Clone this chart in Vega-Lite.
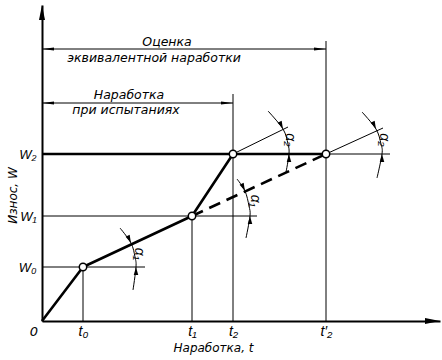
{
  "$schema": "https://vega.github.io/schema/vega-lite/v6.json",
  "width": 398,
  "height": 316,
  "autosize": "none",
  "padding": {"left": 42, "top": 5, "right": 2, "bottom": 39},
  "background": "white",
  "config": {"view": {"stroke": null}, "font": "DejaVu Sans"},
  "datasets": {
    "thin": [
      {"t": 0, "W": 54, "t2": 103, "W2": 54},
      {"t": 0, "W": 105, "t2": 215, "W2": 105},
      {"t": 284, "W": 167, "t2": 348, "W2": 167},
      {"t": 41, "W": 0, "t2": 41, "W2": 54},
      {"t": 150, "W": 0, "t2": 150, "W2": 105},
      {"t": 191, "W": 0, "t2": 191, "W2": 227},
      {"t": 284, "W": 0, "t2": 284, "W2": 280},
      {"t": 191, "W": 167, "t2": 246, "W2": 194},
      {"t": 284, "W": 167, "t2": 341, "W2": 193},
      {"t": 0, "W": 272, "t2": 284, "W2": 272},
      {"t": 0, "W": 218, "t2": 191, "W2": 218}
    ],
    "arcs": [
      {"arc": "a1", "t": 78, "W": 93}, {"arc": "a1", "t": 89, "W": 78}, {"arc": "a1", "t": 93, "W": 64}, {"arc": "a1", "t": 94, "W": 54}, {"arc": "a1", "t": 91, "W": 31},
      {"arc": "b1", "t": 195, "W": 142}, {"arc": "b1", "t": 203, "W": 130}, {"arc": "b1", "t": 207, "W": 115}, {"arc": "b1", "t": 208, "W": 105}, {"arc": "b1", "t": 204, "W": 83},
      {"arc": "a2", "t": 226, "W": 210}, {"arc": "a2", "t": 241, "W": 192}, {"arc": "a2", "t": 246, "W": 177}, {"arc": "a2", "t": 247, "W": 167}, {"arc": "a2", "t": 244, "W": 149},
      {"arc": "b2", "t": 320, "W": 209}, {"arc": "b2", "t": 334, "W": 192}, {"arc": "b2", "t": 339, "W": 177}, {"arc": "b2", "t": 340, "W": 167}, {"arc": "b2", "t": 335, "W": 143}
    ],
    "curve": [
      {"t": 0, "W": 0}, {"t": 41, "W": 54}, {"t": 150, "W": 105}, {"t": 191, "W": 167}
    ],
    "level": [{"t": 0, "W": 167, "t2": 284, "W2": 167}],
    "dashed": [{"t": 150, "W": 105, "t2": 284, "W2": 167}],
    "nodes": [
      {"t": 41, "W": 54}, {"t": 150, "W": 105}, {"t": 191, "W": 167}, {"t": 284, "W": 167}
    ],
    "arcTop": [{"t": 89, "W": 78}, {"t": 203, "W": 130}, {"t": 241, "W": 192}, {"t": 334, "W": 192}],
    "arcBottom": [{"t": 94, "W": 54}, {"t": 208, "W": 105}, {"t": 247, "W": 167}, {"t": 340, "W": 167}],
    "dimLeft": [{"t": 0, "W": 272}, {"t": 0, "W": 218}],
    "dimRight": [{"t": 284, "W": 272}, {"t": 191, "W": 218}],
    "axisUp": [{"t": 0, "W": 316}],
    "axisRight": [{"t": 398, "W": 0}],
    "notes": [
      {"t": 125, "W": 279, "label": "Оценка"},
      {"t": 112, "W": 263, "label": "эквивалентной  наработки"},
      {"t": 87, "W": 226, "label": "Наработка"},
      {"t": 84, "W": 211, "label": "при испытаниях"}
    ],
    "angles": [
      {"t": 97, "W": 67, "label": "α₁"},
      {"t": 213, "W": 120, "label": "α₁"},
      {"t": 248, "W": 181, "label": "α₂"},
      {"t": 342, "W": 181, "label": "α₂"}
    ],
    "origin": [{"t": 0, "W": 0, "label": "0"}]
  },
  "encoding": {
    "x": {
      "field": "t", "type": "quantitative",
      "scale": {"domain": [0, 398], "nice": false, "zero": false},
      "axis": {
        "values": [41, 150, 191, 284],
        "labelExpr": "datum.value == 41 ? 't₀' : datum.value == 150 ? 't₁' : datum.value == 191 ? 't₂' : 't′₂'",
        "ticks": false, "tickSize": 0, "grid": false,
        "domainColor": "black", "domainWidth": 2,
        "labelFont": "Liberation Sans", "labelFontStyle": "italic", "labelFontSize": 14, "labelColor": "black", "labelPadding": 3,
        "title": "Наработка, t", "titleFont": "DejaVu Sans", "titleFontStyle": "italic", "titleFontWeight": "normal", "titleFontSize": 12, "titleColor": "black",
        "titleX": 171, "titleY": 26, "titleBaseline": "middle", "titleAlign": "center"
      }
    },
    "y": {
      "field": "W", "type": "quantitative",
      "scale": {"domain": [0, 316], "nice": false, "zero": false},
      "axis": {
        "values": [54, 105, 167],
        "labelExpr": "datum.value == 54 ? 'W₀' : datum.value == 105 ? 'W₁' : 'W₂'",
        "ticks": false, "tickSize": 0, "grid": false,
        "domainColor": "black", "domainWidth": 2,
        "labelFont": "Liberation Sans", "labelFontStyle": "italic", "labelFontSize": 13, "labelColor": "black", "labelPadding": 6,
        "title": "Износ, W", "titleFont": "DejaVu Sans", "titleFontStyle": "italic", "titleFontWeight": "normal", "titleFontSize": 12, "titleColor": "black",
        "titleX": -30, "titleY": 190, "titleBaseline": "middle", "titleAlign": "center", "titleAngle": -90
      }
    }
  },
  "layer": [
    {"data": {"name": "thin"}, "mark": {"type": "rule", "color": "black", "strokeWidth": 1},
     "encoding": {"x2": {"field": "t2"}, "y2": {"field": "W2"}}},
    {"data": {"name": "arcs"}, "mark": {"type": "line", "color": "black", "strokeWidth": 1, "interpolate": "cardinal"},
     "encoding": {"detail": {"field": "arc"}, "order": {"field": "W", "sort": "descending"}}},
    {"data": {"name": "curve"}, "mark": {"type": "line", "color": "black", "strokeWidth": 2.6, "strokeJoin": "round"}, "encoding": {}},
    {"data": {"name": "level"}, "mark": {"type": "rule", "color": "black", "strokeWidth": 2.6},
     "encoding": {"x2": {"field": "t2"}, "y2": {"field": "W2"}}},
    {"data": {"name": "dashed"}, "mark": {"type": "rule", "color": "black", "strokeWidth": 2.6, "strokeDash": [12, 7]},
     "encoding": {"x2": {"field": "t2"}, "y2": {"field": "W2"}}},
    {"data": {"name": "nodes"}, "mark": {"type": "point", "shape": "circle", "filled": true, "fill": "white", "stroke": "black", "strokeWidth": 1.5, "size": 55, "opacity": 1}, "encoding": {}},
    {"data": {"name": "arcTop"}, "mark": {"type": "point", "shape": "M0,0L-0.28,-1L0.28,-1Z", "filled": true, "color": "black", "size": 256, "angle": -25, "opacity": 1}, "encoding": {}},
    {"data": {"name": "arcBottom"}, "mark": {"type": "point", "shape": "M0,0L-0.28,-1L0.28,-1Z", "filled": true, "color": "black", "size": 256, "angle": 180, "opacity": 1}, "encoding": {}},
    {"data": {"name": "dimLeft"}, "mark": {"type": "point", "shape": "M0,0L-0.13,-1L0.13,-1Z", "filled": true, "color": "black", "size": 576, "angle": 90, "opacity": 1}, "encoding": {}},
    {"data": {"name": "dimRight"}, "mark": {"type": "point", "shape": "M0,0L-0.13,-1L0.13,-1Z", "filled": true, "color": "black", "size": 576, "angle": -90, "opacity": 1}, "encoding": {}},
    {"data": {"name": "axisUp"}, "mark": {"type": "point", "shape": "M0,0L-0.2,-1L0.2,-1Z", "filled": true, "color": "black", "size": 900, "angle": 180, "opacity": 1}, "encoding": {}},
    {"data": {"name": "axisRight"}, "mark": {"type": "point", "shape": "M0,0L-0.2,-1L0.2,-1Z", "filled": true, "color": "black", "size": 900, "angle": -90, "opacity": 1}, "encoding": {}},
    {"data": {"name": "notes"}, "mark": {"type": "text", "font": "DejaVu Sans", "fontStyle": "italic", "fontSize": 12.5, "color": "black", "align": "center", "baseline": "middle"},
     "encoding": {"text": {"field": "label"}}},
    {"data": {"name": "angles"}, "mark": {"type": "text", "font": "Liberation Sans", "fontStyle": "italic", "fontSize": 14, "color": "black", "align": "center", "baseline": "middle", "angle": 90},
     "encoding": {"text": {"field": "label"}}},
    {"data": {"name": "origin"}, "mark": {"type": "text", "font": "DejaVu Sans", "fontStyle": "italic", "fontSize": 13, "color": "black", "align": "center", "baseline": "middle", "dx": -8, "dy": 11},
     "encoding": {"text": {"field": "label"}}}
  ]
}
